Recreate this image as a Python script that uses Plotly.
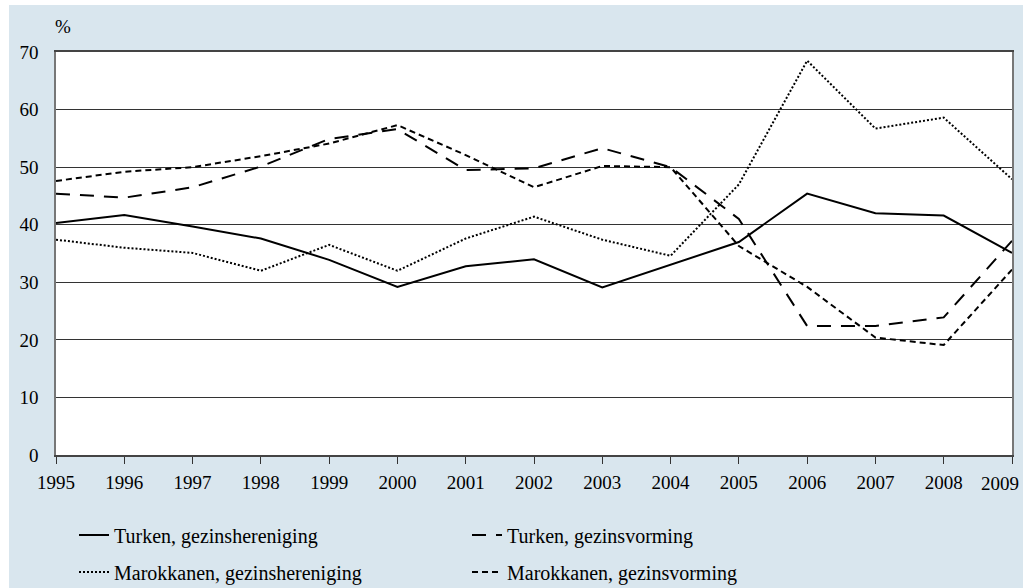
import plotly.graph_objects as go


# -------------------------------------------------
# data (percentages)
# -------------------------------------------------

years = list(range(1995, 2010))

turken_hereniging = [40.3, 41.7, 39.7, 37.6, 33.9, 29.2, 32.8, 34.0, 29.1, 33.0, 37.0, 45.4, 42.0, 41.6, 35.1]
turken_vorming = [45.4, 44.7, 46.5, 50.1, 54.9, 56.6, 49.5, 49.8, 53.3, 50.0, 41.0, 22.4, 22.4, 23.9, 37.2]
marok_hereniging = [37.4, 36.0, 35.1, 32.0, 36.5, 32.0, 37.6, 41.4, 37.4, 34.6, 47.0, 68.5, 56.7, 58.6, 47.9]
marok_vorming = [47.6, 49.2, 50.0, 51.9, 54.1, 57.3, 52.1, 46.5, 50.2, 50.0, 36.3, 29.2, 20.4, 19.1, 32.2]

series_names = [
    "Turken, gezinshereniging",
    "Turken, gezinsvorming",
    "Marokkanen, gezinshereniging",
    "Marokkanen, gezinsvorming",
]

y_ticks = [0, 10, 20, 30, 40, 50, 60, 70]

FONT = "Liberation Serif"
BLUE = "#d9e6ee"
W, H = 1023, 588

# (values, dash, legend group)
styles = [
    (turken_hereniging, "solid", "legend"),
    (turken_vorming, "14px,10px", "legend"),
    (marok_hereniging, "2px,2px", "legend2"),
    (marok_vorming, "6px,4px", "legend2"),
]

fig = go.Figure()

for name, (vals, dash, leg) in zip(series_names, styles):
    fig.add_trace(go.Scatter(
        x=years,
        y=vals,
        name=name,
        mode="lines",
        line=dict(color="black", width=2, dash=dash),
        legend=leg,
    ))

# last year label sits pulled in from the edge, as in the original
x_labels = [str(y) for y in years[:-1]] + [""]

legend_common = dict(
    orientation="h",
    xref="container", yref="container",
    x=74 / W, xanchor="left",
    yanchor="middle",
    entrywidth=348,
    bgcolor="rgba(0,0,0,0)",
    font=dict(family=FONT, size=20),
)

fig.update_layout(
    width=W,
    height=H,
    margin=dict(l=56, r=11, t=52, b=133, autoexpand=False),
    paper_bgcolor=BLUE,
    plot_bgcolor="white",
    font=dict(family=FONT, size=19, color="black"),
    showlegend=True,
    legend=dict(legend_common, y=1 - 535 / H),
    legend2=dict(legend_common, y=1 - 572 / H),
    xaxis=dict(
        range=[1995, 2009],
        tickmode="array",
        tickvals=years,
        ticktext=x_labels,
        ticks="outside",
        ticklen=7,
        tickcolor="#333",
        showgrid=False,
        showline=True,
        linecolor="#444",
        linewidth=1.5,
        mirror=True,
        zeroline=False,
        ticklabelstandoff=2,
    ),
    yaxis=dict(
        range=[0, 70],
        tickmode="array",
        tickvals=y_ticks,
        showgrid=True,
        gridcolor="#333",
        gridwidth=1,
        showline=True,
        linecolor="#777",
        linewidth=1.5,
        mirror=True,
        zeroline=False,
        ticks="",
        ticklabelstandoff=12,
    ),
    shapes=[
        # white page strip above and left of the blue panel
        dict(type="rect", xref="paper", yref="paper",
             x0=-0.1, x1=1.02, y0=(455 - 5) / 403, y1=1.2,
             fillcolor="white", line=dict(width=0), layer="below"),
        dict(type="rect", xref="paper", yref="paper",
             x0=-0.1, x1=(9 - 56) / 956, y0=-0.4, y1=1.2,
             fillcolor="white", line=dict(width=0), layer="below"),
    ],
    annotations=[
        dict(text="%", xref="paper", yref="paper",
             x=(63 - 56) / 956, y=(455 - 26) / 403,
             xanchor="center", yanchor="middle",
             showarrow=False, font=dict(family=FONT, size=19)),
        dict(text=str(years[-1]), xref="paper", yref="paper",
             x=(1000 - 56) / 956, y=(455 - 483) / 403,
             xanchor="center", yanchor="middle",
             showarrow=False, font=dict(family=FONT, size=19)),
    ],
)

fig.write_html(
    "out.html",
    config={"displayModeBar": False},
    post_script="document.body.style.margin='0';document.body.style.overflow='hidden';",
)
